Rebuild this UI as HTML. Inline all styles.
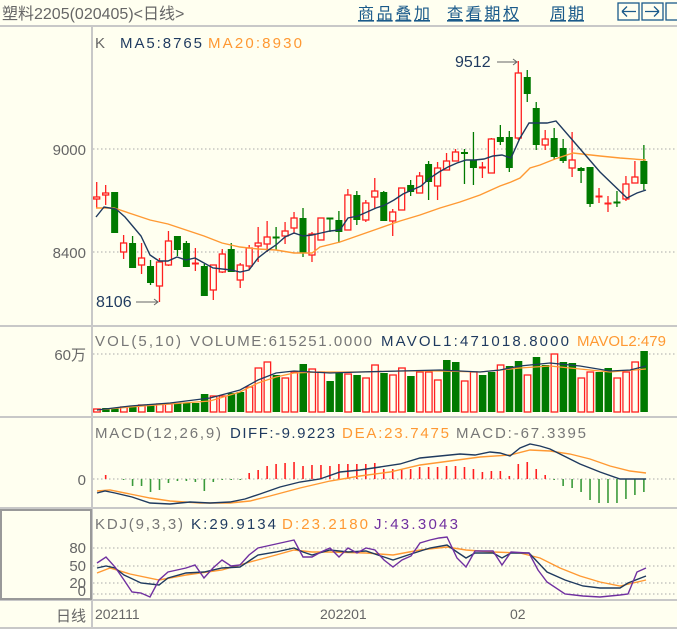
<!DOCTYPE html>
<html><head><meta charset="utf-8"><style>
html,body{margin:0;padding:0;background:#FFFFF0;}
svg{display:block;font-family:"Liberation Sans","Noto Sans CJK SC",sans-serif;}
</style></head><body>
<svg id="s" width="677" height="629" viewBox="0 0 677 629" xmlns="http://www.w3.org/2000/svg">
<rect width="677" height="629" fill="#FFFFF0"/>
<text x="2" y="19" font-size="16" fill="#666">塑料2205(020405)&lt;日线&gt;</text>
<g font-size="16" fill="#1a5a8a" text-decoration="underline">
<text x="358" y="19" textLength="72">商品叠加</text>
<text x="447" y="19" textLength="72">查看期权</text>
<text x="550" y="19" textLength="34">周期</text>
</g>
<g fill="none" stroke="#1a5a8a" stroke-width="1.3">
<rect x="618" y="3" width="21" height="17"/><rect x="642" y="3" width="21" height="17"/><rect x="666" y="3" width="14" height="17"/>
<path d="M622 11.5h14M622 11.5l5-5M622 11.5l5 5"/><path d="M645 11.5h14M659 11.5l-5-5M659 11.5l-5 5"/>
</g>
<g stroke="#c8c8c8" stroke-width="2">
<line x1="0" y1="26" x2="677" y2="26"/><line x1="0" y1="326" x2="677" y2="326"/><line x1="0" y1="417" x2="677" y2="417"/>
<line x1="0" y1="508" x2="677" y2="508"/><line x1="0" y1="600" x2="677" y2="600"/><line x1="0" y1="628" x2="677" y2="628"/>
<line x1="92" y1="26" x2="92" y2="628"/>
</g>
<rect x="1" y="510" width="90" height="89" fill="none" stroke="#999" stroke-width="2"/>
<g stroke="#aaa" stroke-dasharray="1.5,2.5" stroke-width="1">
<line x1="93" y1="149" x2="677" y2="149"/><line x1="93" y1="252" x2="677" y2="252"/>
<line x1="93" y1="354" x2="677" y2="354"/><line x1="93" y1="479" x2="677" y2="479"/>
<line x1="93" y1="548" x2="677" y2="548"/><line x1="93" y1="566" x2="677" y2="566"/>
<line x1="93" y1="583" x2="677" y2="583"/><line x1="93" y1="594" x2="677" y2="594"/>
</g>
<g font-size="15" fill="#666" text-anchor="end">
<text x="86" y="155">9000</text><text x="86" y="258">8400</text>
<text x="86" y="360">60万</text><text x="86" y="485">0</text>
<text x="86" y="553">80</text><text x="86" y="571">50</text><text x="86" y="588">20</text><text x="86" y="596">0</text>
<text x="86" y="621">日线</text>
</g>
<g font-size="14" fill="#666">
<text x="95" y="619">202111</text><text x="320" y="619">202201</text><text x="510" y="619">02</text>
</g>
<g font-size="15">
<text x="95" y="48" fill="#666">K</text>
<text x="120" y="48" fill="#1f3a5f" textLength="82">MA5:8765</text>
<text x="208" y="48" fill="#FF9933" textLength="94">MA20:8930</text>
<text x="95" y="346" fill="#777" textLength="86">VOL(5,10)</text>
<text x="190" y="346" fill="#777" textLength="182">VOLUME:615251.0000</text>
<text x="381" y="346" fill="#1f3a5f" textLength="188">MAVOL1:471018.8000</text>
<text x="577" y="346" fill="#FF9933">MAVOL2:479</text>
<text x="95" y="438" fill="#777" textLength="126">MACD(12,26,9)</text>
<text x="230" y="438" fill="#1f3a5f" textLength="105">DIFF:-9.9223</text>
<text x="342" y="438" fill="#FF9933" textLength="107">DEA:23.7475</text>
<text x="456" y="438" fill="#777" textLength="130">MACD:-67.3395</text>
<text x="95" y="529" fill="#777" textLength="88">KDJ(9,3,3)</text>
<text x="191" y="529" fill="#1f3a5f" textLength="85">K:29.9134</text>
<text x="282" y="529" fill="#FF9933" textLength="86">D:23.2180</text>
<text x="374" y="529" fill="#7030A0" textLength="84">J:43.3043</text>
<text x="96" y="307" fill="#1f3a5f" font-size="16">8106</text>
<text x="455" y="67" fill="#1f3a5f" font-size="16">9512</text>
</g>
<g stroke="#666" fill="none" stroke-width="1"><path d="M136 302h22M154 299l4 3-4 3"/><path d="M497 62h20M513 59l4 3-4 3"/></g>
<g id="g"></g>
</svg>
<script>
var C=[[199,197,182,208],[195,193,185,205],[192,233,192,233],[252,243,235,259],[243,268,236,268],[265,258,243,274],[266,283,260,285],[286,262,258,302],[265,241,231,266],[236,250,236,256],[243,267,241,267],[264,263,248,271],[266,296,264,296],[290,265,265,300],[272,254,249,273],[249,272,243,272],[280,265,263,288],[266,248,245,270],[246,243,227,262],[244,237,221,252],[237,238,227,250],[236,231,222,244],[228,218,212,234],[218,253,208,257],[255,234,232,262],[240,218,218,240],[218,219,218,232],[220,232,211,243],[230,195,189,230],[195,220,191,225],[220,203,200,222],[197,191,178,208],[192,221,191,221],[221,212,209,236],[210,188,188,210],[185,192,180,196],[193,176,172,193],[164,182,161,200],[186,168,162,200],[170,161,153,170],[161,152,149,161],[152,154,149,184],[160,168,132,185],[168,167,162,178],[173,139,138,173],[137,142,125,145],[137,168,131,172],[138,73,61,140],[77,94,70,102],[108,145,102,150],[145,139,130,150],[138,157,128,160],[148,161,139,163],[168,160,132,177],[168,171,167,183],[167,204,167,207],[197,196,188,203],[204,203,196,212],[202,203,191,207],[199,184,176,201],[183,177,161,183],[161,184,145,190]];
var V=[[409,1],[408,0],[408,0],[407,1],[407,0],[405,1],[404,0],[404,1],[404,1],[403,0],[403,0],[403,0],[394,0],[396,1],[396,1],[393,0],[392,0],[387,1],[368,1],[362,1],[375,0],[378,1],[372,1],[364,0],[369,1],[372,1],[381,0],[373,0],[374,1],[375,0],[378,1],[365,1],[373,0],[375,1],[368,1],[376,0],[372,1],[372,1],[380,1],[360,0],[362,0],[381,1],[372,1],[375,0],[372,0],[365,1],[366,0],[361,0],[375,1],[357,0],[365,0],[354,1],[362,0],[363,0],[378,1],[372,1],[372,0],[368,0],[378,1],[372,1],[362,1],[351,0]];
var H=[0,4,0,-1,-7,-7,-13,-11,-4,-2,-2,-3,-12,-3,-1,-1,-1,6,9,13,15,16,17,13,14,14,13,15,15,15,15,16,10,10,10,10,12,12,12,13,13,12,10,7,8,8,3,15,17,10,4,-1,-7,-9,-13,-21,-24,-24,-24,-20,-16,-13];
var g=document.getElementById('g'),h='';
function X(i){return 96.7+8.97*i;}
var R='#FF2020',G='#007A00';
C.forEach(function(c,i){var x=X(i),o=c[0],cl=c[1],up=cl<=o,col=up?R:G,t=Math.min(o,cl),b=Math.max(o,cl);
h+='<line x1="'+x+'" y1="'+c[2]+'" x2="'+x+'" y2="'+c[3]+'" stroke="'+col+'" stroke-width="1.3"/>';
if(b-t<2){h+='<rect x="'+(x-3.5)+'" y="'+(t-0.5)+'" width="7" height="2" fill="'+col+'"/>';}
else if(up){h+='<rect x="'+(x-3)+'" y="'+t+'" width="6" height="'+(b-t)+'" fill="#FFFFF0" stroke="'+R+'" stroke-width="1.3"/>';}
else h+='<rect x="'+(x-3.5)+'" y="'+t+'" width="7" height="'+(b-t)+'" fill="'+G+'"/>';});
V.forEach(function(v,i){var x=X(i);if(v[1])h+='<rect x="'+(x-3)+'" y="'+v[0]+'" width="6.5" height="'+(412-v[0])+'" fill="#FFFFF0" stroke="'+R+'" stroke-width="1.3"/>';else h+='<rect x="'+(x-3.5)+'" y="'+v[0]+'" width="7.5" height="'+(412-v[0])+'" fill="'+G+'"/>';});
H.forEach(function(v,i){if(!v)return;var x=X(i);h+='<line x1="'+x+'" y1="479" x2="'+x+'" y2="'+(479-v)+'" stroke="'+(v>0?R:'#3A9A3A')+'" stroke-width="1.6"/>';});
function P(s,c,w){h+='<polyline points="'+s+'" fill="none" stroke="'+c+'" stroke-width="'+(w||1.4)+'"/>';}
P("96,208 114,208 132,214 150,220 168,224 186,230 204,236 222,243 240,247 258,249 276,250 294,253 312,253 320,247 340,242 360,235 380,228 400,221 420,215 440,208 460,202 480,195 500,186 511,182 520,178 530,168 540,165 555,159 573,153 600,156 620,158 646,160","#FF9933");
P("96,217 104,207 116,209 125,217 141,236 150,255 159,261 168,261 177,257 186,260 195,258 204,263 213,268 231,270 240,272 249,270 258,258 267,251 276,245 285,237 294,233 303,236 312,235 321,233 330,231 340,230 348,218 358,216 367,212 376,208 385,205 394,200 403,194 412,190 421,186 430,178 439,172 448,167 457,163 466,160 475,160 484,159 493,156 502,155 511,158 520,138 529,123 538,123 547,123 556,121 575,143 600,172 627,198 637,193 646,190","#1f3a5f");
P("97,410 130,407 170,404 210,401 240,392 258,383 276,377 294,373 320,372 360,372 400,371 440,371 480,372 520,368 550,366 580,369 610,372 646,369","#FF9933",1.3);
P("97,410 130,406 170,403 210,398 240,390 258,380 276,373 294,371 330,373 360,372 400,371 440,370 480,372 500,370 520,366 550,363 580,366 610,371 630,370 646,366","#1f3a5f",1.3);
P("97,491 110,490 130,494 150,498 170,501 200,503 230,503 250,501 270,496 300,488 330,481 360,476 390,472 420,465 450,461 480,457 510,455 530,450 550,451 570,454 590,459 610,466 630,471 646,473","#FF9933");
P("97,493 105,491 115,493 132,497 150,503 170,504 190,502 210,503 230,502 245,499 260,494 280,487 300,482 320,479 340,472 360,470 380,467 400,464 420,458 440,456 460,454 475,455 490,452 500,453 510,456 520,448 530,444 540,446 550,449 560,454 570,459 580,464 600,472 620,479 646,479","#1f3a5f");
P("97,573 110,568 130,574 159,580 186,575 222,570 250,562 276,555 294,550 312,552 330,552 366,553 393,555 420,550 447,547 466,550 493,552 520,553 540,558 560,568 580,576 600,582 620,586 646,580","#FF9933");
P("97,568 106,566 115,568 124,575 141,583 159,585 168,578 186,573 204,572 222,568 240,567 258,555 276,552 294,548 303,552 312,555 330,550 348,552 366,551 384,557 393,560 411,554 430,548 447,545 457,552 466,558 475,553 493,553 502,558 511,553 529,553 547,572 565,580 583,586 600,588 620,588 628,583 646,576","#1f3a5f");
P("97,563 106,557 115,567 124,580 132,592 141,593 150,597 159,580 168,572 177,570 186,568 195,565 204,578 213,568 222,560 231,566 240,565 249,555 258,548 267,546 276,544 285,542 294,540 303,557 312,557 321,552 330,548 339,557 348,548 357,553 366,548 375,550 384,560 393,567 402,560 411,556 420,543 430,540 439,538 447,537 457,558 466,567 475,551 493,551 502,565 511,552 529,553 538,570 547,582 565,594 583,596 600,597 620,595 628,594 637,572 646,568","#7030A0");
g.innerHTML=h;
</script>
</body></html>
